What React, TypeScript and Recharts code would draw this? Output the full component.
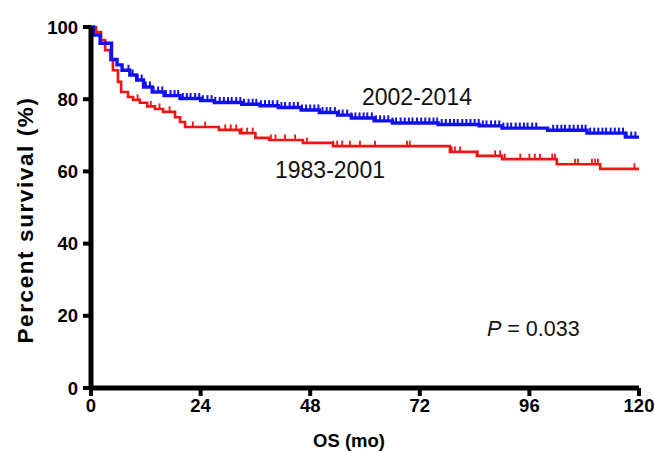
import React from 'react';
import {
  ComposedChart,
  Line,
  Scatter,
  XAxis,
  YAxis,
} from 'recharts';

// Kaplan-Meier step points (month, % surviving)
const recentMonths = [0, 0.5, 2, 4.5, 5.7, 6.8, 8.5, 10, 11.5, 13.4, 16, 19.5, 24, 27, 33, 37, 41, 46, 50, 54, 57, 62, 66, 76, 85, 90, 100, 108.6, 117, 120];
const recentSurvival = [100, 97.8, 95.5, 91, 89.5, 88, 86.7, 85.3, 83.4, 82, 81, 80.2, 79.6, 79.1, 78.6, 78.2, 77.7, 77, 76.3, 75.6, 74.8, 74, 73.4, 73, 72.6, 72, 71.4, 70.6, 69.5, 69.5];

const earlyMonths = [0, 1.1, 2.2, 3.1, 4.2, 4.8, 5.9, 6.6, 8.1, 9.2, 10.7, 12.3, 14, 15.8, 18.4, 19.5, 20.6, 28, 32.6, 36, 39, 46.4, 53, 78.6, 84.5, 90, 102, 111.5, 120];
const earlySurvival = [100, 98.6, 96.4, 93.6, 90.9, 88, 84.8, 82, 80.6, 79.8, 79, 78, 77.3, 76.5, 75, 73.7, 72.3, 71.5, 70.6, 69.3, 68.7, 67.9, 67, 65.4, 64.3, 63.4, 62, 60.7, 60.7];

// censored observations (month)
const recentCensored = [8.2, 9.1, 10.2, 11.1, 12, 12.9, 13.7, 14.7, 15.6, 16.4, 17.4, 18.3, 19.1, 20.1, 21, 21.8, 22.8, 23.7, 24.5, 25.5, 26.4, 27.2, 28.2, 29.1, 30, 30.8, 31.8, 32.7, 33.5, 34.5, 35.4, 36.2, 37.2, 38.1, 39, 39.8, 40.8, 41.7, 42.5, 43.5, 44.4, 45.3, 46.2, 47.1, 48, 48.9, 49.8, 50.7, 51.6, 52.4, 53.4, 54.3, 55.1, 56.1, 57, 57.9, 58.8, 59.7, 60.5, 61.5, 62.4, 63.3, 64.2, 65.1, 66, 66.8, 67.8, 68.7, 69.6, 70.4, 71.4, 72.3, 73.2, 74.1, 75, 75.8, 76.8, 77.7, 78.6, 79.5, 80.3, 81.3, 82.2, 83.1, 84, 84.9, 85.8, 86.6, 87.6, 88.5, 89.4, 90.3, 91.2, 92, 93, 93.9, 94.8, 95.6, 96.6, 97.5, 101.2, 102.1, 103, 103.8, 104.8, 105.7, 106.6, 107.5, 108.3, 109.3, 110.2, 111.1, 112, 112.8, 113.8, 114.7, 115.6, 116.5, 117.3, 118.3, 119.2];
const earlyCensored = [10.2, 13.1, 15, 17.2, 22.3, 25, 29.4, 30.6, 31.8, 33, 34.2, 35.4, 39.4, 40.4, 42.5, 44.7, 47.3, 53, 53.9, 55, 56.7, 58.9, 62.2, 69.2, 69.8, 79, 79.7, 80.8, 84.7, 88.5, 89.6, 90.6, 94, 96, 97.2, 98.3, 101, 101.6, 106, 106.6, 109.7, 110.4, 111, 119];

const xTicks = [0, 24, 48, 72, 96, 120];
const yTicks = [0, 20, 40, 60, 80, 100];

const BLUE = '#1010f0';
const RED = '#f01414';
const FONT = '"Liberation Sans", Arial, Helvetica, sans-serif';

const toPoints = (months: number[], surv: number[]) =>
  months.map((m, i) => ({ x: m, y: surv[i] }));

// survival of a step curve at month t
const survivalAt = (months: number[], surv: number[], t: number) => {
  let v = surv[0];
  for (let i = 0; i < months.length; i++) {
    if (months[i] <= t) v = surv[i];
  }
  return v;
};

const censorPoints = (censored: number[], months: number[], surv: number[]) =>
  censored.map((c) => ({ x: c, y: survivalAt(months, surv, c) }));

const recentData = toPoints(recentMonths, recentSurvival);
const earlyData = toPoints(earlyMonths, earlySurvival);
const recentMarks = censorPoints(recentCensored, recentMonths, recentSurvival);
const earlyMarks = censorPoints(earlyCensored, earlyMonths, earlySurvival);

const tickMark = (color: string, w: number) => (props: any) => (
  <line
    x1={props.cx}
    x2={props.cx}
    y1={props.cy}
    y2={props.cy - 5.5}
    stroke={color}
    strokeWidth={w}
  />
);

const tickStyle = { fill: '#000', fontSize: 18.5, fontWeight: 700, fontFamily: FONT };

export default function App() {
  return (
    <div style={{ position: 'absolute', left: 0, top: 0, width: 654, height: 452, background: '#fff' }}>
      <ComposedChart
        width={654}
        height={452}
        margin={{ top: 27, right: 15, left: 0, bottom: 24 }}
      >
        <XAxis
          dataKey="x"
          type="number"
          domain={[0, 120]}
          ticks={xTicks}
          allowDataOverflow
          axisLine={{ stroke: '#000', strokeWidth: 5 }}
          tickLine={{ stroke: '#000', strokeWidth: 4 }}
          tickSize={8}
          tickMargin={3}
          tick={tickStyle}
          height={40}
        />
        <YAxis
          dataKey="y"
          type="number"
          domain={[0, 100]}
          ticks={yTicks}
          axisLine={{ stroke: '#000', strokeWidth: 5 }}
          tickLine={{ stroke: '#000', strokeWidth: 4 }}
          tickSize={8}
          tickMargin={5}
          tick={tickStyle}
          width={91}
        />
        <Line
          data={earlyData}
          dataKey="y"
          type="stepAfter"
          stroke={RED}
          strokeWidth={2.6}
          dot={false}
          isAnimationActive={false}
        />
        <Line
          data={recentData}
          dataKey="y"
          type="stepAfter"
          stroke={BLUE}
          strokeWidth={3.4}
          dot={false}
          isAnimationActive={false}
        />
        <Scatter data={earlyMarks} dataKey="y" shape={tickMark(RED, 1.8)} isAnimationActive={false} />
        <Scatter data={recentMarks} dataKey="y" shape={tickMark(BLUE, 2)} isAnimationActive={false} />
      </ComposedChart>
      <svg
        width={654}
        height={452}
        style={{ position: 'absolute', left: 0, top: 0, pointerEvents: 'none' }}
      >
        <text
          x={0}
          y={0}
          transform="translate(33 220) rotate(-90)"
          textAnchor="middle"
          fontFamily={FONT}
          fontSize={22.5}
          fontWeight={700}
          letterSpacing={1.6}
          fill="#000"
        >
          Percent survival (%)
        </text>
        <text x={349} y={447} textAnchor="middle" fontFamily={FONT} fontSize={18.5} fontWeight={700} fill="#000">
          OS (mo)
        </text>
        <text x={362} y={105} fontFamily={FONT} fontSize={23} fill="#111">
          2002-2014
        </text>
        <text x={275} y={178} fontFamily={FONT} fontSize={23} fill="#111">
          1983-2001
        </text>
        <text x={487} y={336} fontFamily={FONT} fontSize={21.5} fill="#111">
          <tspan fontStyle="italic">P</tspan> = 0.033
        </text>
      </svg>
    </div>
  );
}
